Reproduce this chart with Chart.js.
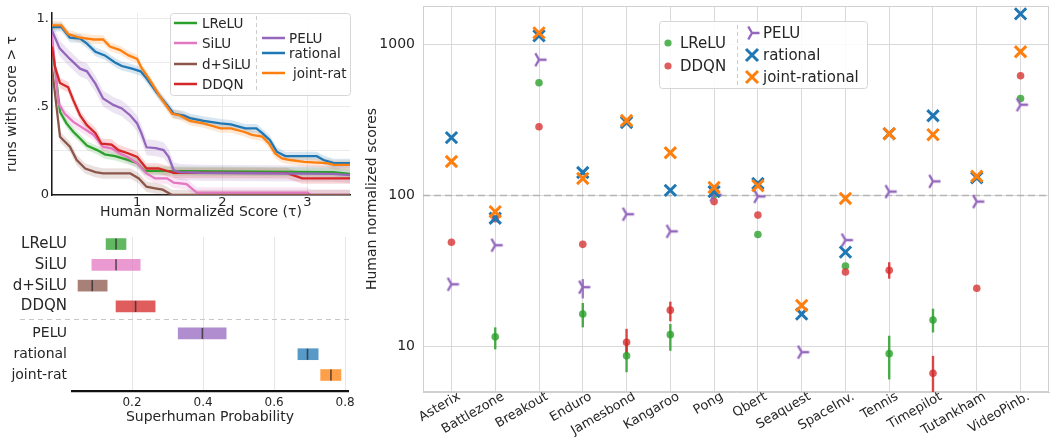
<!DOCTYPE html>
<html><head><meta charset="UTF-8">
<title>Rational activations - Atari scores</title>
<script src="https://cdn.jsdelivr.net/npm/chart.js"></script>
<style>
  body{margin:0;background:#fff;width:1060px;height:446px;position:relative;overflow:hidden;font-family:"DejaVu Sans",sans-serif}
  .box{position:absolute}
</style>
</head><body>
<div class="box" style="left:0;top:0;width:360px;height:222px"><canvas id="curves"></canvas></div>
<div class="box" style="left:0;top:222px;width:360px;height:224px"><canvas id="prob"></canvas></div>
<!-- shifted up 5px: Chart.js keeps ~10px above the log axis, the reference has 5 -->
<div class="box" style="left:360px;top:-5px;width:700px;height:451px"><canvas id="scores"></canvas></div>
<script>
// ---- top-left: fraction of runs with score > tau ----
const tauLReLU = [0, 0.094, 0.17, 0.25, 0.33, 0.41, 0.53, 0.62, 0.74, 0.88, 1.0, 1.09, 3.3, 3.5];
const runsLReLU = [0.866, 0.47, 0.405, 0.358, 0.32, 0.28, 0.254, 0.23, 0.22, 0.20, 0.18, 0.137, 0.13, 0.12];
const tauSiLU = [0, 0.075, 0.15, 0.25, 0.37, 0.49, 0.6, 0.7, 0.8, 0.88, 1.0, 1.11, 1.21, 1.35, 1.43, 1.58, 1.7, 3.0, 3.04, 3.5];
const runsSiLU = [0.91, 0.52, 0.46, 0.414, 0.377, 0.34, 0.273, 0.264, 0.235, 0.216, 0.18, 0.122, 0.094, 0.094, 0.07, 0.062, 0.014, 0.014, 0, 0];
const tauDSiLU = [0, 0.094, 0.21, 0.29, 0.39, 0.51, 0.6, 0.92, 1.02, 1.11, 1.21, 1.3, 1.41, 3.5];
const runsDSiLU = [0.72, 0.33, 0.273, 0.198, 0.15, 0.13, 0.122, 0.122, 0.094, 0.047, 0.038, 0.03, 0, 0];
const tauDDQN = [0, 0.035, 0.094, 0.19, 0.25, 0.33, 0.41, 0.51, 0.58, 0.70, 0.78, 0.9, 1.0, 1.11, 1.25, 1.43, 2.76, 2.94, 3.5];
const runsDDQN = [0.84, 0.725, 0.634, 0.61, 0.537, 0.45, 0.395, 0.35, 0.29, 0.285, 0.254, 0.235, 0.216, 0.15, 0.15, 0.126, 0.124, 0.094, 0.094];
const tauPELU = [0, 0.09, 0.21, 0.33, 0.41, 0.51, 0.6, 0.72, 0.82, 0.92, 1.0, 1.05, 1.11, 1.22, 1.31, 1.37, 1.43, 1.5, 1.74, 3.3, 3.5];
const runsPELU = [0.93, 0.83, 0.77, 0.715, 0.70, 0.63, 0.546, 0.51, 0.49, 0.45, 0.405, 0.35, 0.27, 0.265, 0.254, 0.216, 0.14, 0.13, 0.126, 0.12, 0.113];
const tauRational = [0, 0.11, 0.21, 0.33, 0.41, 0.51, 0.62, 0.74, 0.82, 0.94, 1.04, 1.11, 1.23, 1.35, 1.43, 1.55, 1.62, 1.78, 1.98, 2.1, 2.27, 2.4, 2.47, 2.56, 2.64, 2.74, 3.11, 3.19, 3.31, 3.5];
const runsRational = [0.95, 0.95, 0.89, 0.885, 0.857, 0.81, 0.79, 0.75, 0.73, 0.715, 0.70, 0.66, 0.58, 0.51, 0.46, 0.45, 0.435, 0.42, 0.405, 0.40, 0.377, 0.377, 0.35, 0.31, 0.245, 0.22, 0.22, 0.198, 0.18, 0.18];
const tauJoint = [0, 0.11, 0.19, 0.33, 0.49, 0.6, 0.68, 0.8, 0.9, 1.0, 1.05, 1.15, 1.27, 1.41, 1.5, 1.62, 1.78, 1.98, 2.1, 2.25, 2.35, 2.47, 2.55, 2.62, 2.7, 2.8, 2.96, 3.23, 3.31, 3.5];
const runsJoint = [0.96, 0.96, 0.91, 0.89, 0.88, 0.88, 0.84, 0.82, 0.79, 0.77, 0.72, 0.65, 0.555, 0.46, 0.45, 0.42, 0.405, 0.377, 0.377, 0.358, 0.34, 0.33, 0.29, 0.235, 0.207, 0.198, 0.188, 0.18, 0.17, 0.17];
const bandHalf = [0.025, 0.03, 0.03, 0.03, 0.045, 0.025, 0.025];
const curveXTicks = [0, 1, 2, 3];
const curveYTicks = [0, 0.25, 0.5, 0.75, 1];

// ---- bottom-left: superhuman probability intervals ----
const probNames = ["LReLU", "SiLU", "d+SiLU", "DDQN", "PELU", "rational", "joint-rat"];
const probRows = [0, 1, 2, 3, 4.3, 5.3, 6.3];
const probLow = [0.127, 0.087, 0.048, 0.155, 0.33, 0.667, 0.731];
const probHigh = [0.183, 0.223, 0.13, 0.265, 0.465, 0.724, 0.788];
const probMid = [0.155, 0.155, 0.088, 0.21, 0.398, 0.694, 0.76];
const probXTicks = [0.2, 0.4, 0.6, 0.8];
const probSplit = 3.6;

// ---- right: per-game human normalized scores ----
const games = ["Asterix","Battlezone","Breakout","Enduro","Jamesbond","Kangaroo","Pong","Qbert","Seaquest","SpaceInv.","Tennis","Timepilot","Tutankham","VideoPinb."];
const lreluScores = [null, 11.5, 560, 16.3, 8.6, 11.9, 101, 55, null, 34, 8.9, 14.9, null, 440];
const lreluLow    = [null, 9.5, null, 13.3, 6.7, 9.3, null, null, null, null, 6.0, 12.3, null, null];
const lreluHigh   = [null, 13.3, null, 19.3, 10.5, 14.0, null, null, null, null, 11.7, 17.7, null, null];
const ddqnScores  = [48.9, 70, 286, 47.3, 10.6, 17.3, 91, 74, null, 31, 31.8, 6.6, 24.2, 623];
const ddqnLow     = [null, null, null, null, 8.8, 14.6, null, null, null, null, 28, 4, null, null];
const ddqnHigh    = [null, null, null, null, 13, 19.7, null, null, null, null, 36, 8.6, null, null];
const peluScores  = [25.7, 46.7, 796, 24.6, 75, 57.7, 101, 98.5, 9.1, 50.5, 106, 124, 91, 400];
const peluLow     = [null, null, null, 20.7, null, null, null, null, null, null, null, null, null, null];
const peluHigh    = [null, null, null, 27.8, null, null, null, null, null, null, null, null, null, null];
const rationalScores = [242, 70.5, 1147, 142, 305, 108, 106, 120, 16.3, 42, 257, 338, 131, 1604];
const jointScores    = [168, 78, 1200, 129.6, 314, 192, 113, 116, 18.6, 95.5, 257, 253, 134, 899];
const scoreYTicks = [10, 100, 1000];
const humanLevel = 100;

const FONT = '"DejaVu Sans", sans-serif';
Chart.defaults.font.family = FONT;
Chart.defaults.color = '#262626';
Chart.defaults.animation = false;
Chart.defaults.plugins.legend.display = false;
Chart.defaults.plugins.tooltip.enabled = false;

const C = {
  green: [44,160,44], pink: [227,119,194], brown: [140,86,75], red: [214,39,40],
  purple: [148,103,189], blue: [31,119,180], orange: [255,127,14]
};
const rgba = (c, a) => `rgba(${c[0]},${c[1]},${c[2]},${a})`;
// drop the half-label padding Chart.js reserves at the axis ends
const noEndPad = s => { s.paddingTop = 0; s.paddingBottom = 0; s.paddingLeft = 0; s.paddingRight = 0; };

function legendFrame(ctx, x, y, w, h) {
  ctx.save();
  ctx.beginPath();
  ctx.roundRect(x + 0.5, y + 0.5, w, h, 3);
  ctx.fillStyle = 'rgba(255,255,255,0.85)';
  ctx.fill();
  ctx.strokeStyle = '#d6d6d6';
  ctx.lineWidth = 1;
  ctx.stroke();
  ctx.restore();
}
function dashedV(ctx, x, y0, y1) {
  ctx.save();
  ctx.setLineDash([4, 3]);
  ctx.strokeStyle = '#cccccc';
  ctx.lineWidth = 1;
  ctx.beginPath(); ctx.moveTo(x + 0.5, y0); ctx.lineTo(x + 0.5, y1); ctx.stroke();
  ctx.restore();
}

// ================= top-left curves =================
const curves = [
  { name: "LReLU", tau: tauLReLU, runs: runsLReLU, color: C.green },
  { name: "SiLU", tau: tauSiLU, runs: runsSiLU, color: C.pink },
  { name: "d+SiLU", tau: tauDSiLU, runs: runsDSiLU, color: C.brown },
  { name: "DDQN", tau: tauDDQN, runs: runsDDQN, color: C.red },
  { name: "PELU", tau: tauPELU, runs: runsPELU, color: C.purple },
  { name: "rational", tau: tauRational, runs: runsRational, color: C.blue },
  { name: "joint-rat", tau: tauJoint, runs: runsJoint, color: C.orange }
];
const curveSets = [];
curves.forEach((s, i) => {
  const hw = bandHalf[i];
  curveSets.push({ data: s.tau.map((t, k) => ({ x: t, y: s.runs[k] + hw })), borderWidth: 0, pointRadius: 0, fill: '+1', backgroundColor: rgba(s.color, 0.18), order: 20 });
  curveSets.push({ data: s.tau.map((t, k) => ({ x: t, y: s.runs[k] - hw })), borderWidth: 0, pointRadius: 0, fill: false, order: 20 });
});
curves.forEach((s, i) => {
  curveSets.push({ data: s.tau.map((t, k) => ({ x: t, y: s.runs[k] })), borderColor: rgba(s.color, 1), borderWidth: 2.3, pointRadius: 0, fill: false, order: 6 - i });
});

const curveLegend = {
  id: 'curveLegend',
  afterDatasetsDraw(chart) {
    const ctx = chart.ctx;
    legendFrame(ctx, 170, 13, 180, 82);
    dashedV(ctx, 256, 16, 92);
    const left = [[0, 23], [1, 43], [2, 64], [3, 84]];
    const right = [[4, 38], [5, 53], [6, 73]];
    ctx.save();
    ctx.font = '13.5px ' + FONT;
    ctx.textBaseline = 'middle';
    ctx.fillStyle = '#262626';
    const item = (i, y, x0, x1, tx) => {
      ctx.strokeStyle = rgba(curves[i].color, 1); ctx.lineWidth = 2.5;
      ctx.beginPath(); ctx.moveTo(x0, y); ctx.lineTo(x1, y); ctx.stroke();
      ctx.fillText(curves[i].name, tx, y + 1);
    };
    left.forEach(([i, y]) => item(i, y, 174, 197, 202));
    right.forEach(([i, y]) => item(i, y, 262, 285, i === 6 ? 293 : 289));
    ctx.restore();
  }
};

new Chart(document.getElementById('curves'), {
  type: 'line',
  data: { datasets: curveSets },
  options: {
    responsive: true, maintainAspectRatio: false,
    layout: { padding: { left: 0, right: 10, top: 13, bottom: 0 } },
    scales: {
      x: {
        type: 'linear', min: 0, max: 3.5,
        afterBuildTicks: s => { s.ticks = curveXTicks.map(v => ({ value: v })); },
        afterFit: s => { s.height = 27; noEndPad(s); },
        ticks: { font: { size: 13 }, padding: 0, maxRotation: 0, callback: v => v === 0 ? '' : String(v) },
        grid: { color: '#ebebeb', drawTicks: false },
        border: { color: '#1a1a1a', width: 1.5 },
        title: { display: true, text: 'Human Normalized Score (τ)', font: { size: 14 }, padding: { top: 0, bottom: 1 } }
      },
      y: {
        min: 0, max: 1.03,
        afterBuildTicks: s => { s.ticks = curveYTicks.map(v => ({ value: v })); },
        afterFit: s => { s.width = 52; noEndPad(s); },
        ticks: { font: { size: 13 }, padding: 3, callback: v => v === 1 ? '1.' : v === 0.5 ? '.5' : v === 0 ? '0' : '' },
        grid: { color: '#ebebeb', drawTicks: false },
        border: { color: '#1a1a1a', width: 1.5 },
        title: { display: true, text: 'runs with score > τ', font: { size: 14 } }
      }
    }
  },
  plugins: [curveLegend]
});

// ================= bottom-left probabilities =================
const probColors = [C.green, C.pink, C.brown, C.red, C.purple, C.blue, C.orange];
const probSplitLine = {
  id: 'probSplit',
  beforeDatasetsDraw(chart) {
    const { ctx, chartArea: a, scales: { y } } = chart;
    const py = Math.round(y.getPixelForValue(probSplit)) + 0.5;
    ctx.save();
    ctx.setLineDash([5, 4]);
    ctx.strokeStyle = '#c8c8c8';
    ctx.lineWidth = 1;
    ctx.beginPath(); ctx.moveTo(20, py); ctx.lineTo(a.right + 2, py); ctx.stroke();
    ctx.restore();
  }
};
new Chart(document.getElementById('prob'), {
  type: 'bar',
  data: {
    datasets: [
      {
        type: 'bar', indexAxis: 'y',
        data: probRows.map((r, i) => ({ x: [probLow[i], probHigh[i]], y: r })),
        backgroundColor: probColors.map(c => rgba(c, 0.75)),
        barThickness: 11, borderWidth: 0, order: 2
      },
      {
        type: 'scatter',
        data: probRows.map((r, i) => ({ x: probMid[i], y: r })),
        pointStyle: 'line', rotation: 90, pointRadius: 5.5,
        borderColor: 'rgba(40,40,40,0.75)', borderWidth: 1.6, order: 1
      }
    ]
  },
  options: {
    responsive: true, maintainAspectRatio: false,
    layout: { padding: { left: 0, right: 12, top: 15, bottom: 20 } },
    scales: {
      x: {
        type: 'linear', min: 0.031, max: 0.808, offset: false,
        afterBuildTicks: s => { s.ticks = probXTicks.map(v => ({ value: v })); },
        afterFit: s => { s.height = 35; noEndPad(s); },
        ticks: { font: { size: 12 }, padding: 5, callback: v => v.toFixed(1) },
        grid: { color: '#e6e6e6', drawTicks: false, offset: false },
        border: { color: '#111', width: 2.2 },
        title: { display: true, text: 'Superhuman Probability', font: { size: 14 }, padding: { top: 0, bottom: 0 } }
      },
      y: {
        type: 'linear', reverse: true, min: -0.34, max: 7.07, offset: false,
        afterBuildTicks: s => { s.ticks = probRows.map(v => ({ value: v })); },
        afterFit: s => { s.width = 72; noEndPad(s); },
        ticks: {
          autoSkip: false, padding: 5,
          font: ctx => ({ size: ctx.index < 4 ? 15 : 14 }),
          callback: (v, i) => probNames[i]
        },
        grid: { display: false, drawTicks: false, offset: false },
        border: { display: false }
      }
    }
  },
  plugins: [probSplitLine]
});

// ================= right per-game scores =================
function triRight(color) {
  const size = 20, m = size / 2, r = 7.5;
  const c = document.createElement('canvas');
  c.width = c.height = size;
  const g = c.getContext('2d');
  g.strokeStyle = color; g.lineWidth = 2.4;
  g.beginPath();
  [0, 120, 240].forEach(a => {
    const t = a * Math.PI / 180;
    g.moveTo(m, m); g.lineTo(m + r * Math.cos(t), m - r * Math.sin(t));
  });
  g.stroke();
  return c;
}
const triImg = triRight(rgba(C.purple, 1));
const pts = arr => arr.map((v, i) => ({ x: i, y: v }));

const errorSets = [
  { low: lreluLow, high: lreluHigh, color: rgba(C.green, 0.85) },
  { low: ddqnLow, high: ddqnHigh, color: rgba(C.red, 0.85) },
  { low: peluLow, high: peluHigh, color: rgba(C.purple, 0.85) }
];

const LY = 5; // canvas is shifted up by 5px
const scoreExtras = {
  id: 'scoreExtras',
  beforeDatasetsDraw(chart) {
    const { ctx, chartArea: a, scales: { x, y } } = chart;
    ctx.save();
    ctx.strokeStyle = '#d0d0d0'; ctx.lineWidth = 1;
    ctx.strokeRect(a.left + 0.5, a.top + 0.5, a.width - 1, a.height - 1);
    const py = Math.round(y.getPixelForValue(humanLevel)) + 0.5;
    ctx.setLineDash([7, 4]);
    ctx.strokeStyle = '#b5b5b5'; ctx.lineWidth = 1.4;
    ctx.beginPath(); ctx.moveTo(a.left, py); ctx.lineTo(a.right, py); ctx.stroke();
    ctx.setLineDash([]);
    ctx.beginPath(); ctx.rect(a.left, a.top, a.width, a.height); ctx.clip();
    errorSets.forEach(e => {
      e.low.forEach((lo, i) => {
        if (lo == null) return;
        const px = x.getPixelForValue(i);
        ctx.strokeStyle = e.color; ctx.lineWidth = 2.4;
        ctx.beginPath(); ctx.moveTo(px, y.getPixelForValue(lo)); ctx.lineTo(px, y.getPixelForValue(e.high[i])); ctx.stroke();
      });
    });
    ctx.restore();
  },
  afterDraw(chart) {
    const ctx = chart.ctx;
    legendFrame(ctx, 299, 21 + LY, 208, 67);
    dashedV(ctx, 377, 25 + LY, 85 + LY);
    ctx.save();
    ctx.font = '15px ' + FONT;
    ctx.textBaseline = 'middle';
    ctx.fillStyle = '#262626';
    const dot = (c, y, label) => {
      ctx.fillStyle = c; ctx.beginPath(); ctx.arc(308, y, 3.6, 0, Math.PI * 2); ctx.fill();
      ctx.fillStyle = '#262626'; ctx.fillText(label, 320, y + 1);
    };
    dot(rgba(C.green, 0.8), 43 + LY, 'LReLU');
    dot(rgba(C.red, 0.75), 66 + LY, 'DDQN');
    ctx.drawImage(triImg, 392 - 10, 33 + LY - 10);
    ctx.fillText('PELU', 403, 34 + LY);
    const cross = (c, y, label) => {
      ctx.strokeStyle = c; ctx.lineWidth = 3;
      ctx.beginPath();
      ctx.moveTo(386, y - 6); ctx.lineTo(398, y + 6);
      ctx.moveTo(386, y + 6); ctx.lineTo(398, y - 6);
      ctx.stroke();
      ctx.fillStyle = '#262626'; ctx.fillText(label, 403, y + 1);
    };
    cross(rgba(C.blue, 1), 55 + LY, 'rational');
    cross(rgba(C.orange, 1), 77 + LY, 'joint-rational');
    ctx.restore();
  }
};

new Chart(document.getElementById('scores'), {
  type: 'scatter',
  data: {
    datasets: [
      { data: pts(lreluScores), pointStyle: 'circle', pointRadius: 3.8, backgroundColor: rgba(C.green, 0.8), borderWidth: 0, order: 4 },
      { data: pts(ddqnScores), pointStyle: 'circle', pointRadius: 3.8, backgroundColor: rgba(C.red, 0.75), borderWidth: 0, order: 3 },
      { data: pts(peluScores), pointStyle: triImg, pointRadius: 9, order: 2 },
      { data: pts(rationalScores), pointStyle: 'crossRot', pointRadius: 8, borderColor: rgba(C.blue, 1), borderWidth: 3, order: 1 },
      { data: pts(jointScores), pointStyle: 'crossRot', pointRadius: 8, borderColor: rgba(C.orange, 1), borderWidth: 3, order: 0 }
    ]
  },
  options: {
    responsive: true, maintainAspectRatio: false,
    layout: { padding: { left: 0, right: 1, top: 0, bottom: 0 } },
    scales: {
      x: {
        type: 'linear', min: -0.65, max: 13.65,
        afterBuildTicks: s => { s.ticks = games.map((g, i) => ({ value: i })); },
        afterFit: s => { s.height = 54; noEndPad(s); },
        ticks: { autoSkip: false, minRotation: 30, maxRotation: 30, font: { size: 13 }, padding: -3, labelOffset: 8, callback: v => games[v] },
        grid: { color: '#d9d9d9', drawTicks: false },
        border: { color: '#d0d0d0' }
      },
      y: {
        type: 'logarithmic', min: 4.95, max: 1810,
        afterBuildTicks: s => { s.ticks = scoreYTicks.map(v => ({ value: v })); },
        afterFit: s => { s.width = 63; noEndPad(s); },
        ticks: { font: { size: 14 }, padding: 8, callback: v => String(v) },
        grid: { color: '#d9d9d9', drawTicks: false },
        border: { color: '#d0d0d0' },
        title: { display: true, text: 'Human normalized scores', font: { size: 14 } }
      }
    }
  },
  plugins: [scoreExtras]
});
</script>
</body></html>
